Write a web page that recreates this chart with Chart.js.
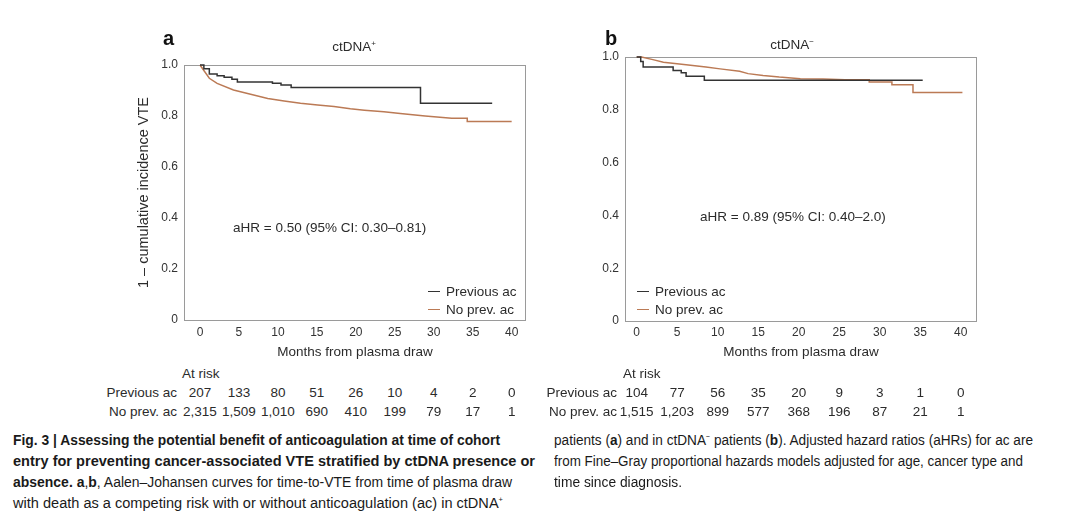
<!DOCTYPE html>
<html>
<head>
<meta charset="utf-8">
<script src="https://cdn.jsdelivr.net/npm/chart.js@4.4.1/dist/chart.umd.min.js"></script>
<style>
  body { margin: 0; background: #fff; }
  #page { position: relative; width: 1080px; height: 524px; overflow: hidden;
          font-family: "Liberation Sans", Arial, sans-serif; color: #2b2b2b; }
  .t { position: absolute; white-space: nowrap; line-height: 1; }
  canvas { position: absolute; }
  .letter { font-weight: bold; font-size: 20px; color: #111; }
  .ptitle { font-size: 13.5px; transform: translateX(-50%); }
  .ptitle sup { font-size: 8px; vertical-align: 5px; }
  .note { font-size: 13.5px; }
  .leg { font-size: 13.5px; }
  .leg i { display: inline-block; width: 12px; height: 0; border-top: 1.5px solid; vertical-align: 4px; margin-right: 6px; }
  .risk { font-size: 13.5px; transform: translateX(-50%); }
  .rlab { font-size: 13.5px; transform: translateX(-100%); }
  .cap { position: absolute; white-space: nowrap; font-family: "Liberation Sans", sans-serif;
         font-size: 15.5px; color: #1a1a1a; line-height: 1; transform-origin: 0 0; }
  .cap sup { font-size: 8px; vertical-align: 6px; }
</style>
</head>
<body>
<div id="page">
  <canvas id="chartA" width="420" height="345" style="left:120px; top:20px;"></canvas>
  <canvas id="chartB" width="430" height="355" style="left:560px; top:12px;"></canvas>

  <div class="t letter" style="left:163px; top:28px;">a</div>
  <div class="t letter" style="left:605px; top:28px;">b</div>
  <div class="t ptitle" style="left:354px; top:40px;">ctDNA<sup>+</sup></div>
  <div class="t ptitle" style="left:792px; top:38px;">ctDNA<sup>−</sup></div>

  <div class="t note" style="left:233px; top:221px;">aHR = 0.50 (95% CI: 0.30–0.81)</div>
  <div class="t note" style="left:700px; top:210px;">aHR = 0.89 (95% CI: 0.40–2.0)</div>

  <div class="t leg" style="left:428px; top:285px;"><i style="color:#333"></i>Previous ac</div>
  <div class="t leg" style="left:428px; top:303px;"><i style="color:#bb7a55"></i>No prev. ac</div>
  <div class="t leg" style="left:637px; top:285px;"><i style="color:#333"></i>Previous ac</div>
  <div class="t leg" style="left:637px; top:303px;"><i style="color:#bb7a55"></i>No prev. ac</div>

  <div class="t note" style="left:182px; top:367px;">At risk</div>
  <div class="t note" style="left:623px; top:367px;">At risk</div>
  <div class="t rlab" style="left:177px; top:386px;">Previous ac</div>
  <div class="t rlab" style="left:177px; top:405px;">No prev. ac</div>
  <div class="t rlab" style="left:617px; top:386px;">Previous ac</div>
  <div class="t rlab" style="left:617px; top:405px;">No prev. ac</div>

  <div class="cap" data-w="487" style="left:13px; top:432px;"><b>Fig. 3 | Assessing the potential benefit of anticoagulation at time of cohort</b></div>
  <div class="cap" data-w="522" style="left:13px; top:453px;"><b>entry for preventing cancer-associated VTE stratified by ctDNA presence or</b></div>
  <div class="cap" data-w="499" style="left:13px; top:474px;"><b>absence. a</b>,<b>b</b>, Aalen–Johansen curves for time-to-VTE from time of plasma draw</div>
  <div class="cap" data-w="490" style="left:13px; top:495px;">with death as a competing risk with or without anticoagulation (ac) in ctDNA<sup>+</sup></div>
  <div class="cap" data-w="479" style="left:554px; top:432px;">patients (<b>a</b>) and in ctDNA<sup>−</sup> patients (<b>b</b>). Adjusted hazard ratios (aHRs) for ac are</div>
  <div class="cap" data-w="469" style="left:554px; top:453px;">from Fine–Gray proportional hazards models adjusted for age, cancer type and</div>
  <div class="cap" data-w="128" style="left:554px; top:474px;">time since diagnosis.</div>
</div>
<script>
// x ticks (months) and y ticks
const monthTicks = [0, 5, 10, 15, 20, 25, 30, 35, 40];
const yTicks = [0, 0.2, 0.4, 0.6, 0.8, 1.0];

// panel a: ctDNA+
const aPrevX = [0, 0.5, 1.2, 2.2, 3.1, 4.1, 4.8, 9.3, 10.4, 11.7, 28.3, 37.5];
const aPrevY = [1.0, 0.985, 0.965, 0.958, 0.952, 0.944, 0.933, 0.928, 0.922, 0.912, 0.85, 0.85];
const aNoX = [0, 1.2, 2.2, 4.3, 6.5, 8.7, 10.8, 12.9, 15.1, 17.2, 19.3, 21.1, 23.6, 25.7, 28.9, 32.3, 34.3, 34.3, 40.0];
const aNoY = [1.0, 0.948, 0.928, 0.902, 0.885, 0.869, 0.859, 0.85, 0.843, 0.837, 0.828, 0.823, 0.817, 0.81, 0.8, 0.791, 0.791, 0.778, 0.778];
const aRiskPrev = [207, 133, 80, 51, 26, 10, 4, 2, 0];
const aRiskNo = [2315, 1509, 1010, 690, 410, 199, 79, 17, 1];

// panel b: ctDNA-
const bPrevX = [0, 0.5, 0.8, 4.5, 5.5, 6.1, 8.35, 35.3];
const bPrevY = [1.0, 0.983, 0.962, 0.949, 0.94, 0.927, 0.912, 0.912];
const bNoX = [0, 0.6, 2.0, 3.3, 6.1, 8.55, 10.3, 12.7, 13.75, 15.6, 17.6, 20.2, 23.0, 25.7, 28.7, 28.7, 31.5, 31.5, 34.1, 34.1, 40.2];
const bNoY = [1.0, 1.0, 0.99, 0.98, 0.971, 0.962, 0.955, 0.946, 0.937, 0.93, 0.924, 0.918, 0.917, 0.914, 0.914, 0.905, 0.905, 0.895, 0.895, 0.866, 0.866];
const bRiskPrev = [104, 77, 56, 35, 20, 9, 3, 1, 0];
const bRiskNo = [1515, 1203, 899, 577, 368, 196, 87, 21, 1];

const prevColor = '#333333';
const noColor = '#bb7a55';

function pts(xs, ys) {
    return xs.map((x, i) => ({ x: x, y: ys[i] }));
}

// grey frame round the plot area
const boxPlugin = {
    id: 'box',
    beforeDatasetsDraw(chart) {
        const a = chart.chartArea;
        const ctx = chart.ctx;
        ctx.save();
        ctx.strokeStyle = '#9a9a9a';
        ctx.lineWidth = 1;
        ctx.strokeRect(Math.round(a.left) + 0.5, Math.round(a.top) + 0.5,
            Math.round(a.width) - 1, Math.round(a.height));
        ctx.restore();
    }
};

function makeChart(id, opts) {
    const config = {
        type: 'line',
        data: {
            datasets: [
                { data: pts(opts.prevX, opts.prevY), borderColor: prevColor, borderWidth: 1.5, stepped: true, pointRadius: 0, clip: false },
                { data: pts(opts.noX, opts.noY), borderColor: noColor, borderWidth: 1.5, pointRadius: 0, clip: false }
            ]
        },
        options: {
            responsive: false,
            animation: false,
            layout: { padding: { top: 45, right: opts.padRight, left: 0, bottom: 0 } },
            plugins: { legend: { display: false }, tooltip: { enabled: false } },
            scales: {
                x: {
                    type: 'linear', min: opts.xMin, max: opts.xMax,
                    grid: { display: false, drawTicks: false },
                    border: { display: false },
                    afterBuildTicks: (s) => { s.ticks = monthTicks.map(v => ({ value: v })); },
                    afterFit: (s) => { s.height = opts.xHeight; },
                    ticks: { padding: opts.xPad, color: '#333', font: { family: 'Liberation Sans', size: 12 }, maxRotation: 0 },
                    title: { display: true, text: 'Months from plasma draw', color: '#2b2b2b',
                             font: { family: 'Liberation Sans', size: 13.5 }, padding: { top: 0, bottom: opts.xTitlePad } }
                },
                y: {
                    min: 0, max: 1,
                    grid: { display: false, drawTicks: false },
                    border: { display: false },
                    afterBuildTicks: (s) => { s.ticks = yTicks.map(v => ({ value: v })); },
                    afterFit: (s) => { s.width = opts.yWidth; },
                    ticks: { padding: opts.yPad, color: '#333', font: { family: 'Liberation Sans', size: 12 },
                             callback: (v) => v === 0 ? '0' : v.toFixed(1) },
                    title: { display: !!opts.yTitle, text: opts.yTitle || '', color: '#2b2b2b',
                             font: { family: 'Liberation Sans', size: 14.5 }, padding: { top: opts.yTitlePad || 0, bottom: 0 } }
                }
            }
        },
        plugins: [boxPlugin]
    };
    return new Chart(document.getElementById(id), config);
}

const chartA = makeChart('chartA', {
    prevX: aPrevX, prevY: aPrevY, noX: aNoX, noY: aNoY,
    xMin: -2.05, xMax: 41.84, padRight: 14, xHeight: 45, yWidth: 64, yPad: 6,
    xPad: 5, xTitlePad: 5, yTitle: '1 – cumulative incidence VTE', yTitlePad: 15
});
const chartB = makeChart('chartB', {
    prevX: bPrevX, prevY: bPrevY, noX: bNoX, noY: bNoY,
    xMin: -1.44, xMax: 42.0, padRight: 13, xHeight: 46, yWidth: 65, yPad: 6,
    xPad: 4, xTitlePad: 7
});

// at-risk table, centred under the x ticks of each chart
function riskRow(chart, canvasLeft, values, top) {
    const page = document.getElementById('page');
    values.forEach((v, i) => {
        const d = document.createElement('div');
        d.className = 't risk';
        d.style.left = (canvasLeft + chart.scales.x.getPixelForValue(monthTicks[i])) + 'px';
        d.style.top = top + 'px';
        d.textContent = v.toLocaleString('en-US');
        page.appendChild(d);
    });
}
riskRow(chartA, 120, aRiskPrev, 386);
riskRow(chartA, 120, aRiskNo, 405);
riskRow(chartB, 560, bRiskPrev, 386);
riskRow(chartB, 560, bRiskNo, 405);

// squeeze caption lines to the widths they have in the figure
document.querySelectorAll('.cap').forEach((el) => {
    const w = el.getBoundingClientRect().width;
    el.style.transform = 'scaleX(' + (Number(el.dataset.w) / w) + ')';
});
</script>
</body>
</html>
